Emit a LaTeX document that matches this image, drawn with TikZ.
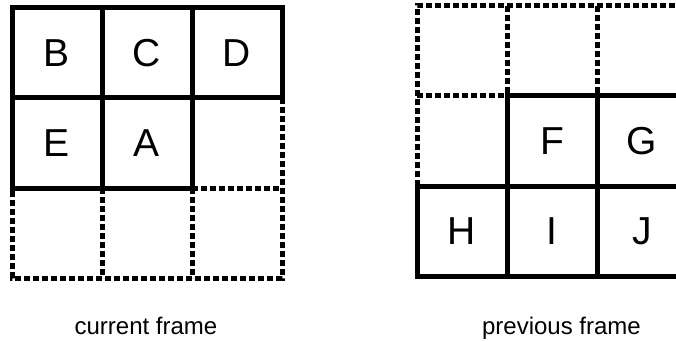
\documentclass[tikz,border=0pt]{standalone}
\usepackage{fontspec}
\setmainfont{Liberation Sans}
\begin{document}
\begin{tikzpicture}[x=1pt,y=-1pt,
  cellbase/.style={minimum width=90pt,minimum height=90pt,inner sep=0pt,outer sep=0pt,
    font=\fontsize{39}{44}\selectfont},
  solidcell/.style={cellbase,draw=black,line width=5pt},
  dashline/.style={draw=black,line width=5pt,dash pattern=on 6pt off 3pt},
  caption/.style={anchor=base,font=\fontsize{24}{28}\selectfont}]
\useasboundingbox (0,0) rectangle (676,342);
\clip (0,0) rectangle (676,342);
% current frame: empty cells
\node[cellbase] (L23) at (237,143) {};
\node[cellbase] (L31) at (57,233) {};
\node[cellbase] (L32) at (147,233) {};
\node[cellbase] (L33) at (237,233) {};
\draw[dashline] (L23.north east) -- (L33.south east) -- (L31.south west) -- (L31.north west);
\draw[dashline] (L32.north west) -- (L32.south west);
\draw[dashline] (L32.north east) -- (L32.south east);
\draw[dashline] (L33.north west) -- (L33.north east);
% current frame: solid cells
\node[solidcell] (B) at (57,53) {B};
\node[solidcell] (C) at (147,53) {C};
\node[solidcell] (D) at (237,53) {D};
\node[solidcell] (E) at (57,143) {E};
\node[solidcell] (A) at (147,143) {A};
% previous frame: empty cells
\node[cellbase] (R11) at (462,51) {};
\node[cellbase] (R12) at (552,51) {};
\node[cellbase] (R13) at (642,51) {};
\node[cellbase] (R21) at (462,141) {};
\draw[dashline] (R21.south west) -- (R11.north west) -- (R13.north east) -- (R13.south east);
\draw[dashline] (R21.north west) -- (R21.north east);
\draw[dashline] (R12.north west) -- (R12.south west);
\draw[dashline] (R12.north east) -- (R12.south east);
% previous frame: solid cells
\node[solidcell] (F) at (552,141) {F};
\node[solidcell] (G) at (642,141) {G};
\node[solidcell] (H) at (462,231) {H};
\node[solidcell] (I) at (552,231) {I};
\node[solidcell] (J) at (642,231) {J};
% captions
\node[caption] (cur) at (146,334) {current frame};
\node[caption] (prev) at (561.5,334) {previous frame};
\end{tikzpicture}
\end{document}
